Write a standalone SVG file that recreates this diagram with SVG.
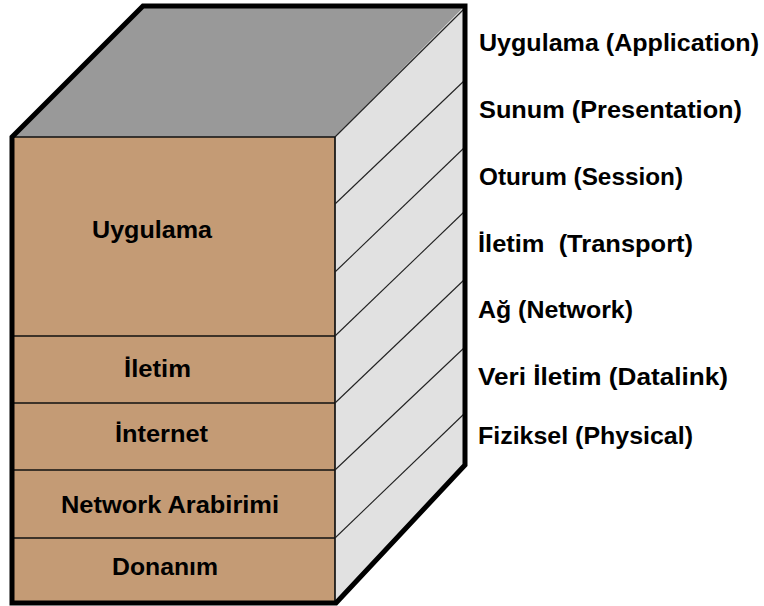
<svg xmlns="http://www.w3.org/2000/svg" width="764" height="606" viewBox="0 0 764 606">
  <style>
    .lbl { font-family: "Liberation Sans", Arial, sans-serif; font-weight: bold; font-size: 24px; fill: #000; }
    .div { stroke: #111; stroke-width: 1.7; fill: none; }
    .diag { stroke: #222; stroke-width: 1.1; fill: none; }
  </style>

  <!-- box faces -->
  <g id="box">
    <polygon id="top-face" points="12,137 143,6 465,6 335,137" fill="#999999"/>
    <polygon id="side-face" points="335,137 465,6 465,465 336,603" fill="#E1E1E1"/>
    <rect id="front-face" x="12" y="137" width="323" height="466" fill="#C49B75"/>
  </g>

  <!-- layer edges -->
  <g id="connectors">
    <!-- front face layer dividers -->
    <line class="div" x1="12" y1="137" x2="335" y2="137"/>
    <line class="div" x1="12" y1="336" x2="335" y2="336"/>
    <line class="div" x1="12" y1="403" x2="335" y2="403"/>
    <line class="div" x1="12" y1="470" x2="335" y2="470"/>
    <line class="div" x1="12" y1="538" x2="335" y2="538"/>
    <line class="div" x1="335" y1="137" x2="335" y2="603"/>
    <!-- side face diagonals -->
    <line class="diag" x1="335" y1="137" x2="465" y2="8"/>
    <line class="diag" x1="335" y1="204" x2="465" y2="80"/>
    <line class="diag" x1="335" y1="272" x2="465" y2="147"/>
    <line class="diag" x1="335" y1="336" x2="465" y2="211"/>
    <line class="diag" x1="335" y1="403" x2="465" y2="279"/>
    <line class="diag" x1="335" y1="470" x2="465" y2="347"/>
    <line class="diag" x1="335" y1="538" x2="465" y2="413"/>
  </g>

  <!-- outer outline -->
  <path id="outline" d="M12,137 L143,6 L465,6 L465,465 L336,603 L12,603 Z" fill="none" stroke="#000" stroke-width="5" stroke-linejoin="miter"/>

  <!-- TCP/IP layers on the front face -->
  <g id="tcp-uygulama"><text class="lbl" x="92" y="238" textLength="120" lengthAdjust="spacingAndGlyphs">Uygulama</text></g>
  <g id="tcp-iletim"><text class="lbl" x="124" y="377" textLength="67" lengthAdjust="spacingAndGlyphs">İletim</text></g>
  <g id="tcp-internet"><text class="lbl" x="115" y="442" textLength="93" lengthAdjust="spacingAndGlyphs">İnternet</text></g>
  <g id="tcp-network"><text class="lbl" x="61" y="513" textLength="218" lengthAdjust="spacingAndGlyphs">Network Arabirimi</text></g>
  <g id="tcp-donanim"><text class="lbl" x="112" y="575" textLength="106" lengthAdjust="spacingAndGlyphs">Donanım</text></g>

  <!-- OSI layers on the right -->
  <g id="osi-application"><text class="lbl" x="479" y="51" textLength="280" lengthAdjust="spacingAndGlyphs">Uygulama (Application)</text></g>
  <g id="osi-presentation"><text class="lbl" x="479" y="118" textLength="263" lengthAdjust="spacingAndGlyphs">Sunum (Presentation)</text></g>
  <g id="osi-session"><text class="lbl" x="479" y="185" textLength="204" lengthAdjust="spacingAndGlyphs">Oturum (Session)</text></g>
  <g id="osi-transport"><text class="lbl" x="478" y="252" textLength="215" lengthAdjust="spacingAndGlyphs" xml:space="preserve">İletim  (Transport)</text></g>
  <g id="osi-network"><text class="lbl" x="478" y="318" textLength="155" lengthAdjust="spacingAndGlyphs">Ağ (Network)</text></g>
  <g id="osi-datalink"><text class="lbl" x="478" y="385" textLength="250" lengthAdjust="spacingAndGlyphs">Veri İletim (Datalink)</text></g>
  <g id="osi-physical"><text class="lbl" x="478" y="444" textLength="215" lengthAdjust="spacingAndGlyphs">Fiziksel (Physical)</text></g>
</svg>
